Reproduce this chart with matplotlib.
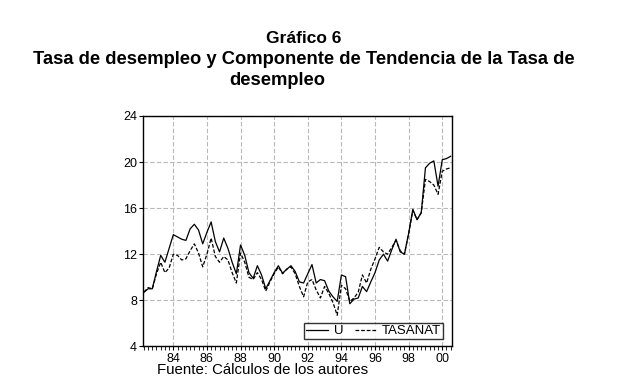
import matplotlib
matplotlib.use("Agg")
import matplotlib.pyplot as plt
import numpy as np
from matplotlib.ticker import MultipleLocator

plt.rcParams['font.family'] = ['Liberation Sans', 'DejaVu Sans']

# Quarterly data 1982Q2 - 2000Q3
start_year = 1982
start_quarter = 2
u = [8.7, 9.0, 9.0, 10.5, 11.9, 11.3, 12.5, 13.7, 13.5, 13.3,
     13.2, 14.2, 14.6, 14.1, 12.9, 13.9, 14.8, 13.1, 12.2, 13.4,
     12.5, 11.3, 10.3, 12.8, 11.9, 10.4, 9.9, 11.0, 10.2, 9.0,
     9.7, 10.4, 11.0, 10.35, 10.7, 11.0, 10.5, 9.6, 9.5, 10.3,
     11.1, 9.5, 9.8, 9.7, 8.8, 8.3, 7.9, 10.2, 10.05, 7.7,
     8.1, 8.2, 9.2, 8.75, 9.6, 10.4, 11.5, 12.0, 11.4, 12.4,
     13.3, 12.2, 12.0, 13.8, 15.9, 15.0, 15.6, 19.5, 19.9, 20.1,
     17.9, 20.2, 20.3, 20.5]
tasanat = [8.7, 9.1, 9.0, 10.3, 11.3, 10.4, 10.8, 12.0, 11.9, 11.5,
           11.6, 12.3, 12.9, 12.1, 10.9, 12.0, 13.4, 11.8, 11.3, 11.8,
           11.5, 10.4, 9.5, 12.1, 11.3, 10.0, 9.8, 10.4, 9.8, 8.8,
           9.6, 10.3, 10.9, 10.3, 10.7, 10.9, 10.3, 9.2, 8.3, 9.6,
           9.8, 8.9, 8.2, 9.2, 8.6, 7.8, 6.7, 9.3, 9.0, 7.9,
           8.2, 8.7, 10.2, 9.5, 10.7, 11.6, 12.6, 12.2, 12.0, 12.6,
           13.2, 12.3, 12.0, 13.8, 15.8, 15.0, 15.6, 18.5, 18.3, 18.0,
           17.2, 19.2, 19.4, 19.5]
year_ticks = [1984, 1986, 1988, 1990, 1992, 1994, 1996, 1998, 2000]
year_labels = ['84', '86', '88', '90', '92', '94', '96', '98', '00']
y_ticks = [4, 8, 12, 16, 20, 24]

n = len(u)
x = start_year + (start_quarter - 1) / 4 + np.arange(n) / 4

fig = plt.figure(figsize=(6.2, 3.84), dpi=100)
ax = fig.add_axes([0.231, 0.098, 0.4975, 0.600])

ax.plot(x, u, color='black', lw=0.9, label='U')
ax.plot(x, tasanat, color='black', lw=0.9, ls=(0, (3, 1.5)), label='TASANAT')

ax.set_xlim(1982.21, 2000.56)
ax.set_ylim(4, 24)
ax.set_yticks(y_ticks)
ax.set_xticks(year_ticks)
ax.set_xticklabels(year_labels)
ax.xaxis.set_minor_locator(MultipleLocator(0.25))
ax.tick_params(axis='both', which='major', direction='out', length=3, width=0.8,
               labelsize=9, pad=1.5)
ax.tick_params(axis='x', which='minor', direction='out', length=3, width=0.6)
ax.tick_params(axis='y', which='minor', length=0)

ax.grid(True, which='major', color='#b8b8b8', ls=(0, (4, 2)), lw=0.8)
for s in ax.spines.values():
    s.set_linewidth(1.0)
    s.set_color('black')

leg = ax.legend(loc='lower right', bbox_to_anchor=(0.972, 0.03), ncol=2,
                frameon=True, fancybox=False, edgecolor='black',
                fontsize=9.5, handlelength=1.6, handletextpad=0.45,
                columnspacing=0.9, borderpad=0.15, borderaxespad=0)
leg.get_frame().set_linewidth(1.0)

fig.text(0.49, 0.9, 'Gráfico 6', ha='center', va='center', fontsize=12.5, fontweight='bold')
fig.text(0.49, 0.846, 'Tasa de desempleo y Componente de Tendencia de la Tasa de',
         ha='center', va='center', fontsize=13.2, fontweight='bold')
fig.text(0.4476, 0.791, 'desempleo', ha='center', va='center', fontsize=13.2, fontweight='bold')

fig.text(0.253, 0.036, 'Fuente: Cálculos de los autores', ha='left', va='center', fontsize=10.8)

fig.savefig('out.png', dpi=100)
